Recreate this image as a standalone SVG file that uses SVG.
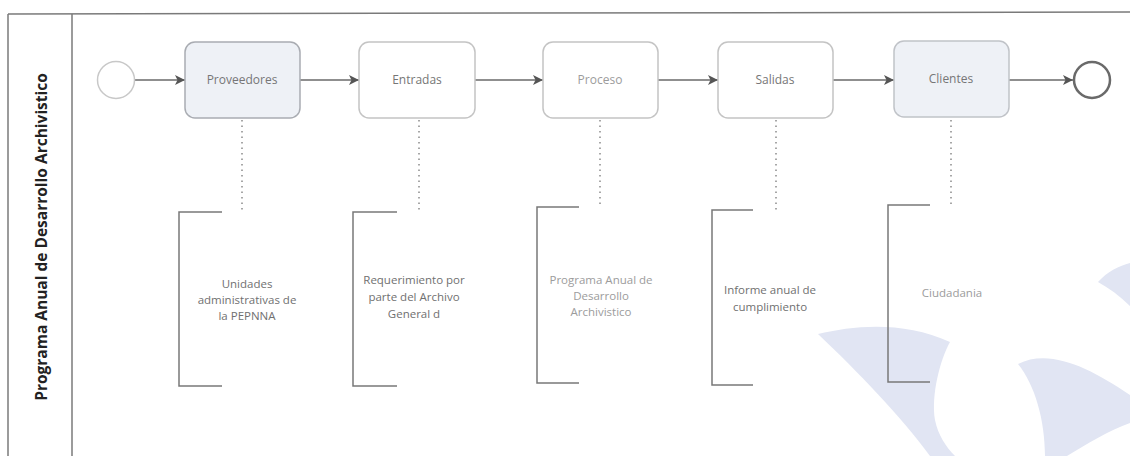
<svg xmlns="http://www.w3.org/2000/svg" width="1130" height="456" viewBox="0 0 1130 456">
  <style>
    .pool { fill: none; stroke: #7a7a7a; stroke-width: 1.5; }
    .task { stroke: #c4c4c4; stroke-width: 1.5; }
    .task-plain { fill: #ffffff; }
    .task-shaded { fill: #eef1f6; stroke: #a9acb2; }
    .label { font-family: "Open Sans", "Noto Sans", sans-serif; font-size: 12px; fill: #767676; text-anchor: middle; }
    .note { font-family: "Open Sans", "Noto Sans", sans-serif; font-size: 11.5px; fill: #707070; text-anchor: middle; }
    .faint { fill: #9c9c9c; }
    .flow { fill: none; stroke: #6a6a6a; stroke-width: 1.5; }
    .assoc { fill: none; stroke: #8a8a8a; stroke-width: 1.5; stroke-dasharray: 1.5 4; }
    .bracket { fill: none; stroke: #787878; stroke-width: 1.5; }
    .mark { fill: #e1e5f3; }
  </style>
  <defs>
    <marker id="arrow" viewBox="0 0 12 12" refX="11" refY="6" markerWidth="12" markerHeight="12" markerUnits="userSpaceOnUse" orient="auto">
      <path d="M1,1 L11,6 L1,11 L3.5,6 Z" fill="#555555"/>
    </marker>
  </defs>

  <rect width="1130" height="456" fill="#ffffff"/>

  <!-- faint logo shapes in the lower right corner -->
  <g id="watermark">
    <path class="mark" d="M818,334 C855,325 905,321 950,342 C940,360 931,395 935,420 C938,435 946,447 955,456 L930,456 C900,415 858,372 818,334 Z"/>
    <path class="mark" d="M1018,364 C1050,348 1090,368 1130,395 L1130,423 C1110,430 1085,445 1067,456 L1045,456 C1045,420 1035,385 1018,364 Z"/>
    <path class="mark" d="M1098,282 C1108,271 1119,266 1130,263 L1130,306 C1120,296 1109,288 1098,282 Z"/>
  </g>

  <!-- pool and lane -->
  <g id="pool">
    <line class="pool" x1="8" y1="14" x2="1130" y2="12"/>
    <line class="pool" x1="8" y1="14" x2="8" y2="456"/>
    <line class="pool" x1="72" y1="14" x2="72" y2="456"/>
    <text transform="translate(41,237) rotate(-90)" font-family="'Open Sans', 'Noto Sans', sans-serif" font-size="15.5" font-weight="bold" fill="#222222" text-anchor="middle" dominant-baseline="central">Programa Anual de Desarrollo Archivistico</text>
  </g>

  <!-- sequence flows and annotation links -->
  <g id="connectors">
    <line class="flow" x1="135" y1="80" x2="185" y2="80" marker-end="url(#arrow)"/>
    <line class="flow" x1="300" y1="80" x2="359" y2="80" marker-end="url(#arrow)"/>
    <line class="flow" x1="475" y1="80" x2="543" y2="80" marker-end="url(#arrow)"/>
    <line class="flow" x1="658" y1="80" x2="718" y2="80" marker-end="url(#arrow)"/>
    <line class="flow" x1="833" y1="80" x2="894" y2="80" marker-end="url(#arrow)"/>
    <line class="flow" x1="1009" y1="80" x2="1073" y2="80" marker-end="url(#arrow)"/>

    <line class="assoc" x1="242" y1="120" x2="242" y2="212"/>
    <line class="assoc" x1="419" y1="120" x2="419" y2="212"/>
    <line class="assoc" x1="600" y1="120" x2="600" y2="207"/>
    <line class="assoc" x1="776" y1="120" x2="776" y2="210"/>
    <line class="assoc" x1="951" y1="120" x2="951" y2="205"/>
  </g>

  <g id="start">
    <circle cx="116" cy="80" r="18.5" fill="#ffffff" stroke="#c8c8c8" stroke-width="1.5"/>
  </g>

  <g id="proveedores">
    <rect class="task task-shaded" x="185" y="42" width="115" height="76" rx="10"/>
    <text class="label" x="242" y="84">Proveedores</text>
  </g>

  <g id="entradas">
    <rect class="task task-plain" x="359" y="42" width="116" height="76" rx="10"/>
    <text class="label" x="417" y="84">Entradas</text>
  </g>

  <g id="proceso">
    <rect class="task task-plain" x="543" y="42" width="115" height="76" rx="10"/>
    <text class="label faint" x="600" y="84">Proceso</text>
  </g>

  <g id="salidas">
    <rect class="task task-plain" x="718" y="42" width="115" height="76" rx="10"/>
    <text class="label" x="775" y="84">Salidas</text>
  </g>

  <g id="clientes">
    <rect class="task task-shaded" x="894" y="41" width="115" height="76" rx="10" style="stroke:#c0c3c8"/>
    <text class="label" x="951" y="83">Clientes</text>
  </g>

  <g id="end">
    <circle cx="1092" cy="80" r="18" fill="#ffffff" stroke="#6a6a6a" stroke-width="2.5"/>
  </g>

  <!-- text annotations -->
  <g id="note-proveedores">
    <path class="bracket" d="M222,212 H179 V386 H222"/>
    <text class="note" x="247" y="288">Unidades</text>
    <text class="note" x="247" y="304">administrativas de</text>
    <text class="note" x="247" y="320">la PEPNNA</text>
  </g>

  <g id="note-entradas">
    <path class="bracket" d="M397,212 H353 V386 H397"/>
    <text class="note" x="414" y="284">Requerimiento por</text>
    <text class="note" x="414" y="301">parte del Archivo</text>
    <text class="note" x="414" y="318">General d</text>
  </g>

  <g id="note-proceso">
    <path class="bracket" d="M579,207 H537 V383 H579"/>
    <text class="note faint" x="601" y="284">Programa Anual de</text>
    <text class="note faint" x="601" y="300">Desarrollo</text>
    <text class="note faint" x="601" y="316">Archivistico</text>
  </g>

  <g id="note-salidas">
    <path class="bracket" d="M753,210 H712 V385 H753"/>
    <text class="note" x="770" y="294">Informe anual de</text>
    <text class="note" x="770" y="311">cumplimiento</text>
  </g>

  <g id="note-clientes">
    <path class="bracket" d="M930,205 H888 V382 H930"/>
    <text class="note faint" x="952" y="297">Ciudadania</text>
  </g>
</svg>
